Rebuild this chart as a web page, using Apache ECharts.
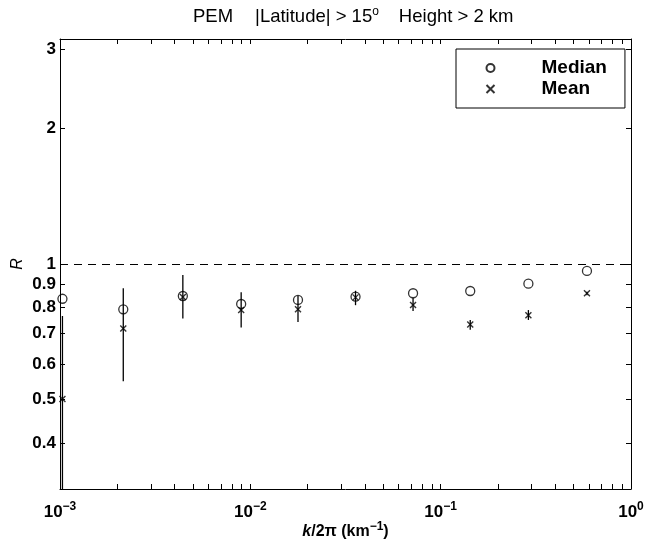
<!DOCTYPE html>
<html>
<head>
<meta charset="utf-8">
<script src="https://cdn.jsdelivr.net/npm/echarts@6/dist/echarts.min.js"></script>
<style>
html,body{margin:0;padding:0;background:#fff;}
#chart{width:645px;height:541px;}
</style>
</head>
<body>
<div id="chart"></div>
<script>
// k/2π values (km^-1)
var kValues = [0.00103, 0.00215, 0.00442, 0.00895, 0.0178, 0.0357, 0.0716, 0.143, 0.289, 0.587];
// Median R
var medianR = [0.837, 0.793, 0.849, 0.815, 0.832, 0.846, 0.861, 0.871, 0.904, 0.965];
// Mean R
var meanR = [0.501, 0.719, 0.845, 0.790, 0.793, 0.843, 0.811, 0.734, 0.769, 0.861];
// Error bar limits about the mean
var errLow = [0.20, 0.549, 0.757, 0.723, 0.743, 0.810, 0.786, 0.714, 0.751, 0.852];
var errHigh = [0.766, 0.883, 0.945, 0.865, 0.849, 0.872, 0.840, 0.751, 0.790, 0.868];
// Axis ticks
var xMajorTicks = [0.001, 0.01, 0.1, 1];
var yLabelTicks = [0.4, 0.5, 0.6, 0.7, 0.8, 0.9, 1, 2, 3];
var refLevel = 1;

var xMinorTicks = [];
[0.001, 0.01, 0.1].forEach(function (d) {
  for (var m = 1; m <= 9; m++) xMinorTicks.push(+(d * m).toPrecision(3));
});
xMinorTicks.push(1);

var FONT = '"Liberation Sans", Arial, Helvetica, sans-serif';

function sup(n) { return String(n).replace('-', '\u2212'); }

var xLabelRich = {
  b: { fontSize: 17, fontWeight: 'bold', fontFamily: FONT, color: '#000' },
  s: { fontSize: 12, fontWeight: 'bold', fontFamily: FONT, color: '#000', padding: [0, 0, 11, 0] }
};

function xAxisCfg(pos, showLabel) {
  return {
    type: 'log', logBase: 10, min: 0.001, max: 1, position: pos,
    axisLine: { show: true, onZero: false, lineStyle: { color: '#000', width: 1 } },
    axisTick: { show: true, inside: true, length: 5, customValues: xMinorTicks, lineStyle: { color: '#000', width: 1 } },
    minorTick: { show: false },
    splitLine: { show: false },
    axisLabel: {
      show: showLabel, margin: 12, customValues: xMajorTicks,
      formatter: function (v) {
        var e = Math.round(Math.log10(v));
        return '{b|10}{s|' + sup(e) + '}';
      },
      rich: xLabelRich
    }
  };
}
function yAxisCfg(pos, showLabel) {
  return {
    type: 'log', logBase: 10, min: Math.pow(10, -0.5), max: Math.pow(10, 0.5), position: pos,
    axisLine: { show: true, onZero: false, lineStyle: { color: '#000', width: 1 } },
    axisTick: { show: true, inside: true, length: 5, customValues: yLabelTicks, lineStyle: { color: '#000', width: 1 } },
    splitLine: { show: false },
    axisLabel: {
      show: showLabel, margin: 4, customValues: yLabelTicks,
      color: '#000', fontSize: 17, fontWeight: 'bold', fontFamily: FONT,
      formatter: function (v) { return String(Number(v.toPrecision(3))); }
    }
  };
}

var xb = xAxisCfg('bottom', true);
xb.name = '{i|k}{n|/2\u03c0 (km}{s|\u22121}{n|)}';
xb.nameLocation = 'middle';
xb.nameGap = 32;
xb.nameMoveOverlap = false;
xb.nameTextStyle = {
  rich: {
    i: { fontSize: 16, fontStyle: 'italic', fontWeight: 'bold', fontFamily: FONT, color: '#000' },
    n: { fontSize: 16, fontWeight: 'bold', fontFamily: FONT, color: '#000' },
    s: { fontSize: 12, fontWeight: 'bold', fontFamily: FONT, color: '#000', padding: [0, 0, 9, 0] }
  }
};
var yl = yAxisCfg('left', true);
yl.name = 'R';
yl.nameLocation = 'middle';
yl.nameGap = 34;
yl.nameMoveOverlap = false;
yl.nameRotate = 90;
yl.nameTextStyle = { fontSize: 16, fontStyle: 'italic', fontFamily: FONT, color: '#000' };

var medianData = kValues.map(function (k, i) { return [k, medianR[i]]; });
var meanData = kValues.map(function (k, i) { return [k, meanR[i]]; });
var errData = kValues.map(function (k, i) { return [k, errLow[i], errHigh[i]]; });

var chart = echarts.init(document.getElementById('chart'), null, { renderer: 'canvas' });
chart.setOption({
  animation: false,
  backgroundColor: '#fff',
  title: {
    text: 'PEM{g1|}|Latitude| > 15{sup|o}{g2|}Height > 2 km',
    left: 188, top: 1,
    textStyle: {
      fontSize: 18.5, fontWeight: 'normal', fontFamily: FONT, color: '#000',
      rich: {
        g1: { width: 22 },
        g2: { width: 20 },
        sup: { fontSize: 12, fontFamily: FONT, color: '#000', padding: [0, 0, 10, 0] }
      }
    }
  },
  grid: { left: 60, right: 14, top: 39, bottom: 52, containLabel: false, outerBoundsMode: 'none' },
  legend: {
    left: 456, top: 49, orient: 'vertical',
    data: ['Median', 'Mean'],
    backgroundColor: '#fff', borderColor: '#000', borderWidth: 1,
    padding: [9, 18, 9, 28], itemGap: 1,
    itemWidth: 60, itemHeight: 8,
    textStyle: { fontSize: 19, fontWeight: 'bold', fontFamily: FONT, color: '#000', padding: [0, 0, 0, 16], lineHeight: 20 }
  },
  xAxis: [xb, xAxisCfg('top', false)],
  yAxis: [yl, yAxisCfg('right', false)],
  series: [
    {
      name: 'Median', type: 'scatter', data: medianData,
      symbol: 'circle', symbolSize: 9,
      itemStyle: { color: 'rgba(255,255,255,0)', borderColor: '#000', borderWidth: 1.3 },
      z: 3,
      markLine: {
        silent: true, symbol: 'none', label: { show: false },
        lineStyle: { color: '#000', width: 1, type: [8, 6] },
        data: [{ yAxis: refLevel }]
      }
    },
    {
      name: 'Mean', type: 'scatter', data: meanData,
      symbol: 'path://M0 0L10 10M10 0L0 10', symbolSize: 6,
      itemStyle: { color: 'none', borderColor: '#000', borderWidth: 1.4 },
      z: 4
    },
    {
      name: 'err', type: 'custom', data: errData, clip: true, z: 5,
      encode: { x: 0, y: [1, 2] },
      renderItem: function (params, api) {
        var p1 = api.coord([api.value(0), api.value(1)]);
        var p2 = api.coord([api.value(0), api.value(2)]);
        return {
          type: 'line',
          shape: { x1: p1[0], y1: p1[1], x2: p2[0], y2: p2[1] },
          style: { stroke: '#000', lineWidth: 1.3 }
        };
      }
    }
  ]
});
</script>
</body>
</html>
